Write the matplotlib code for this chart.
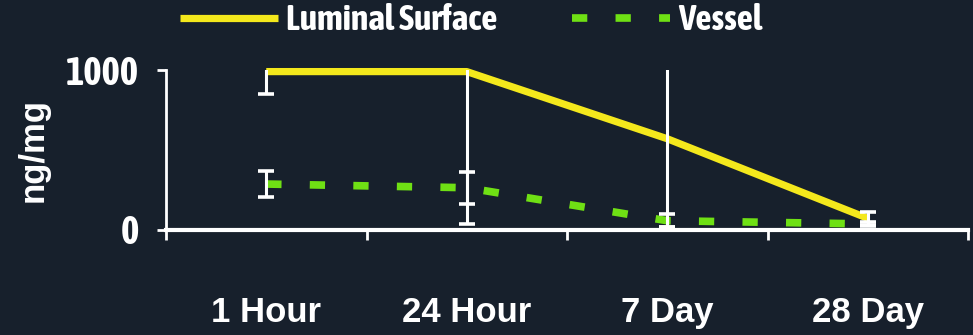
import matplotlib
matplotlib.use("Agg")
import matplotlib.pyplot as plt
from matplotlib import font_manager as fm

# Concentration over time (ng/mg)
timepoints = ["1 Hour", "24 Hour", "7 Day", "28 Day"]
luminal = [990, 990, 569, 70]
luminal_err = [140, 953, 554, 40]
vessel = [285, 262, 55, 35]
vessel_err = [82, 100, 40, 15]

BG = "#17202c"
YELLOW = "#f4e81c"
GREEN = "#6fe014"
WHITE = "white"
WIDE = ["Liberation Sans", "DejaVu Sans"]


def narrow_font():
    """Pick a condensed bold face if one is installed."""
    for f in fm.fontManager.ttflist:
        name = f.name.lower()
        if ("narrow" in name or "condensed" in name) and f.weight in (700, "bold"):
            return {"fname": f.fname}, True
    for f in fm.fontManager.ttflist:
        if "condensed" in str(f.stretch).lower() and f.weight in (700, "bold"):
            return {"fname": f.fname}, True
    return {"family": WIDE, "weight": "bold"}, False


narrow_spec, has_narrow = narrow_font()


def nprop(size_narrow, size_wide):
    spec = dict(narrow_spec)
    spec["size"] = size_narrow if has_narrow else size_wide
    return fm.FontProperties(**spec)


fig = plt.figure(figsize=(9.73, 3.35), dpi=100, facecolor=BG)
ax = fig.add_axes([166 / 973, 1 - 229.5 / 335, 802 / 973, 159.5 / 335])
ax.set_facecolor(BG)

x = list(range(1, len(timepoints) + 1))

lum_line, = ax.plot(x, luminal, color=YELLOW, lw=5.2, solid_capstyle="butt",
                    clip_on=False, zorder=3)
ves_line, = ax.plot(x, vessel, color=GREEN, lw=5.5, dash_capstyle="butt",
                    clip_on=False, zorder=3)
ves_line.set_dashes((2.0, 3.7))

ax.errorbar(x, luminal, yerr=luminal_err, fmt="none", ecolor=WHITE,
            elinewidth=2.2, capsize=6, capthick=2.6, zorder=4)
ax.errorbar(x, vessel, yerr=vessel_err, fmt="none", ecolor=WHITE,
            elinewidth=2.2, capsize=6, capthick=2.6, zorder=4)

ax.set_xlim(0.5, len(timepoints) + 0.5)
ax.set_ylim(0, 1000)

# category boundaries as major ticks, names centred on minor ticks
ax.set_xticks([i + 0.5 for i in range(0, len(timepoints) + 1)])
ax.set_xticklabels([])
ax.set_xticks(x, minor=True)
ax.set_xticklabels(timepoints, minor=True, fontsize=25, fontweight="bold",
                   color=WHITE, family=WIDE)
ax.tick_params(axis="x", which="major", direction="out", length=7.5,
               width=2, color=WHITE)
ax.tick_params(axis="x", which="minor", length=0, pad=48)

ax.set_yticks([0, 1000])
ax.set_yticklabels(["0", "1000"], color=WHITE,
                   fontproperties=nprop(28, 23))
ax.tick_params(axis="y", direction="out", length=6.5, width=2,
               color=WHITE, pad=13)

for side in ("top", "right"):
    ax.spines[side].set_visible(False)
ax.spines["left"].set_color(WHITE)
ax.spines["left"].set_linewidth(2)
ax.spines["bottom"].set_color(WHITE)
ax.spines["bottom"].set_linewidth(3)

ax.set_ylabel("ng/mg", fontsize=25, fontweight="bold", color=WHITE,
              family=WIDE, va="center")
ax.yaxis.set_label_coords(-0.166, 0.5)

leg = fig.legend([lum_line, ves_line], ["Luminal Surface", "Vessel"],
                 loc="center left", bbox_to_anchor=(180 / 973, 1 - 20 / 335),
                 ncol=2, frameon=False, borderpad=0, borderaxespad=0,
                 handlelength=2.75 if has_narrow else 3.6,
                 handletextpad=0.23 if has_narrow else 0.3,
                 columnspacing=2.1 if has_narrow else 2.8,
                 prop=nprop(25.6, 19.5))
for t in leg.get_texts():
    t.set_color(WHITE)

fig.savefig("out.png", dpi=100, facecolor=BG)
